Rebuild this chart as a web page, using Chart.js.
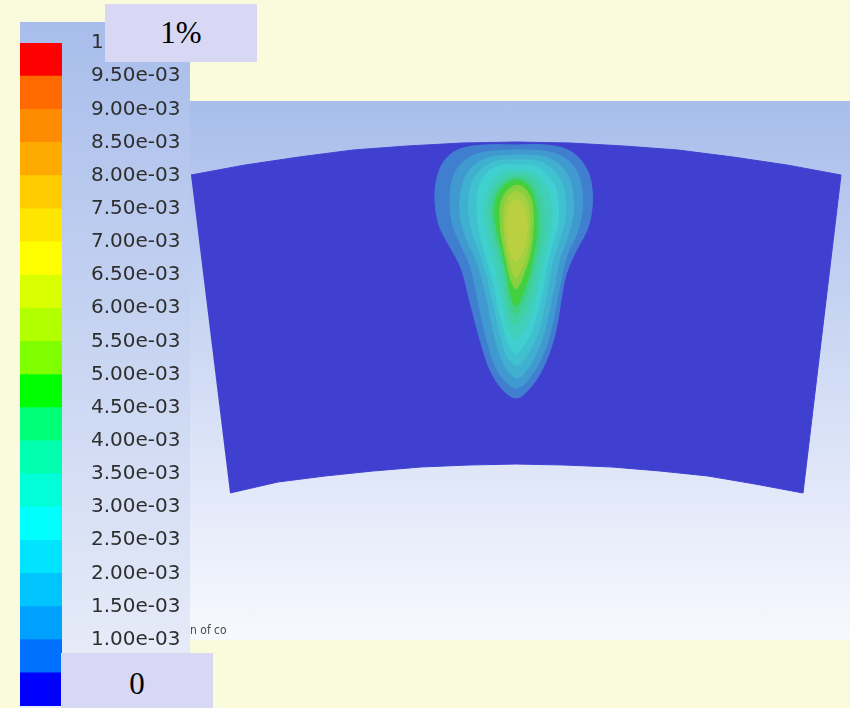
<!DOCTYPE html>
<html>
<head>
<meta charset="utf-8">
<script src="https://cdn.jsdelivr.net/npm/chart.js@4.4.1/dist/chart.umd.min.js"></script>
<style>
  html, body { margin: 0; padding: 0; width: 850px; height: 708px; overflow: hidden; background: #fafadd; }
  .panel { position: absolute; }
  #barPanel { left: 20px; top: 22px; width: 170px; height: 686px; background: linear-gradient(#a8bdeb, #ebeff9); }
  #plotPanel { left: 190px; top: 101px; width: 660px; height: 539px; background: linear-gradient(#a8bdeb, #f8f9fe); }
  canvas { position: absolute; }
  #barCanvas { left: 20px; top: 22px; }
  #plotCanvas { left: 190px; top: 101px; }
  .tag { position: absolute; background: #d8d8f4; font-family: "Liberation Serif", "Times New Roman", serif;
         font-size: 31px; color: #000; display: flex; align-items: center; justify-content: center; box-sizing: border-box; }
  #tagMax { left: 105px; top: 4px; width: 152px; height: 58px; }
  #tagMin { left: 61px; top: 653px; width: 152px; height: 55px; padding-top: 6px; }
  #caption { position: absolute; left: 190px; top: 623px; font: 12px "DejaVu Sans Condensed", "DejaVu Sans", sans-serif; color: #4a4a4a; }
</style>
</head>
<body>
<div class="panel" id="barPanel"></div>
<div class="panel" id="plotPanel"></div>
<canvas id="barCanvas" width="170" height="708"></canvas>
<canvas id="plotCanvas" width="660" height="539"></canvas>
<div id="caption">n of co</div>
<div class="tag" id="tagMax">1%</div>
<div class="tag" id="tagMin">0</div>
<script>
// Colour-scale levels (mass fraction) and their printed labels
const levels = [0, 0.0005, 0.001, 0.0015, 0.002, 0.0025, 0.003, 0.0035, 0.004, 0.0045, 0.005,
                0.0055, 0.006, 0.0065, 0.007, 0.0075, 0.008, 0.0085, 0.009, 0.0095, 0.01];
const levelLabels = ['0.00e+00', '5.00e-04', '1.00e-03', '1.50e-03', '2.00e-03', '2.50e-03', '3.00e-03',
                     '3.50e-03', '4.00e-03', '4.50e-03', '5.00e-03', '5.50e-03', '6.00e-03', '6.50e-03',
                     '7.00e-03', '7.50e-03', '8.00e-03', '8.50e-03', '9.00e-03', '9.50e-03', '1.00e-02'];
// One colour per band, lowest band first
const bandColors = ['#0000ff', '#0070ff', '#00a0ff', '#00c5ff', '#00e4ff', '#00ffff', '#00ffd8', '#00ffb0',
                    '#00ff78', '#00ff00', '#80ff00', '#b2ff00', '#daff00', '#ffff00', '#ffe600', '#ffcc00',
                    '#ffaa00', '#ff8c00', '#ff6a00', '#ff0000'];

// Outline of the fan-shaped section: outer arc (left to right), then inner arc (right to left)
const sectionOuterArc = [[191, 175], [245, 165], [299, 157], [353, 150], [407, 146], [462, 143], [516, 142],
                         [570, 143], [624, 146], [678, 150], [733, 157], [787, 165], [841, 175]];
const sectionInnerArc = [[803, 493], [755, 484], [708, 476], [660, 471], [612, 467], [564, 465], [516, 464],
                         [469, 465], [421, 467], [373, 471], [325, 476], [278, 482], [230, 493]];

// Iso-lines of the plume, one closed outline per level
const contourLevels = [0.0005, 0.001, 0.0015, 0.002, 0.0025, 0.003, 0.0035, 0.004, 0.0045, 0.005, 0.0055, 0.006];
const iso0005 = [[515,145],[545,145],[568,150],[583,163],[591,182],[592,208],[587,230],[575,253],[566,275],[561,300],
                 [557,325],[551,348],[542,370],[530,388],[517,398],[504,391],[491,372],[483,350],[476,325],[469,298],
                 [461,268],[449,245],[439,225],[435,200],[437,178],[445,160],[460,149],[485,145]];
const iso0010 = [[515,150],[543,151],[563,157],[576,170],[582,190],[582,212],[577,233],[567,255],[561,280],[556,305],
                 [551,330],[544,352],[534,372],[518,388],[505,381],[494,363],[487,340],[481,315],[476,290],[470,265],
                 [460,243],[452,222],[450,198],[453,178],[462,163],[477,154],[494,151]];
const iso0015 = [[515,155],[540,156],[557,163],[568,176],[573,195],[573,215],[568,236],[560,258],[555,283],[550,307],
                 [545,330],[538,350],[529,367],[518,378],[507,370],[499,352],[493,330],[488,305],[483,282],[476,260],
                 [467,240],[461,220],[460,198],[464,180],[472,167],[485,159],[499,156]];
const iso0020 = [[515,160],[537,161],[551,168],[561,181],[565,198],[565,218],[560,238],[553,260],[548,285],[544,308],
                 [539,330],[531,348],[518,365],[508,358],[502,341],[497,320],[492,298],[487,276],[481,256],[474,237],
                 [469,216],[469,196],[473,181],[481,170],[494,162],[504,160]];
const iso0025 = [[515,165],[534,166],[546,174],[555,186],[558,203],[558,222],[553,242],[547,264],[543,288],[538,310],
                 [532,330],[524,345],[516,353],[509,345],[504,329],[499,310],[495,290],[490,270],[484,250],[479,230],
                 [477,210],[478,192],[483,178],[492,169],[503,165]];
const iso0030 = [[515,170],[531,172],[542,180],[549,193],[552,210],[551,228],[547,248],[542,270],[537,292],[532,312],
                 [525,329],[516,339],[509,331],[505,315],[501,296],[497,276],[492,256],[487,237],[484,217],[485,199],
                 [490,185],[498,175],[506,171]];
const iso0035 = [[515,174],[528,176],[537,184],[543,197],[545,213],[545,232],[541,252],[536,274],[531,295],[525,313],
                 [516,325],[509,316],[506,300],[503,282],[499,262],[494,243],[490,224],[489,205],[493,191],[501,180],
                 [508,176]];
const iso0040 = [[515,177],[526,179],[533,187],[538,200],[540,216],[540,235],[536,256],[531,278],[525,299],[516,315],
                 [510,304],[507,288],[504,268],[499,249],[494,230],[492,211],[494,196],[501,185],[509,179]];
const iso0045 = [[515,180],[524,182],[531,190],[535,203],[537,220],[536,240],[532,262],[526,285],[516,306],[510,293],
                 [507,275],[503,255],[498,235],[495,216],[496,200],[502,188],[509,182]];
const iso0050 = [[515,185],[523,187],[530,196],[533,210],[533,228],[531,248],[526,268],[516,289],[510,277],[506,259],
                 [502,240],[500,220],[501,203],[506,192]];
const iso0055 = [[515,191],[523,194],[528,205],[530,220],[529,240],[525,260],[516,277],[510,264],[506,246],[504,227],
                 [504,210],[508,197]];
const iso0060 = [[515,199],[522,203],[526,215],[527,232],[523,250],[516,261],[510,251],[507,234],[507,218],[509,206]];
const isoLines = [iso0005, iso0010, iso0015, iso0020, iso0025, iso0030, iso0035, iso0040, iso0045, iso0050, iso0055, iso0060];

// Surface colours appear lit: mix each scale colour towards a dim grey
function lit(hex) {
  const n = parseInt(hex.slice(1), 16);
  const ch = [(n >> 16) & 255, (n >> 8) & 255, n & 255].map(c => Math.round(64 + 0.565 * c));
  return `rgb(${ch[0]},${ch[1]},${ch[2]})`;
}
function toPoints(list) { return list.map(([x, y]) => ({ x, y })); }

// ---- colour bar ----
new Chart(document.getElementById('barCanvas'), {
  type: 'bar',
  data: {
    labels: [''],
    datasets: bandColors.map((c, i) => ({
      data: [levels[i + 1] - levels[i]],
      backgroundColor: c,
      borderWidth: 0,
      barPercentage: 1,
      categoryPercentage: 1
    }))
  },
  options: {
    responsive: false, animation: false, devicePixelRatio: 1,
    layout: { padding: { top: 21, bottom: 24, left: 0, right: 0 } },
    plugins: { legend: { display: false }, tooltip: { enabled: false } },
    scales: {
      x: { stacked: true, display: false },
      y: {
        stacked: true, position: 'right', min: 0, max: 0.01,
        grid: { display: false, drawTicks: false }, border: { display: false },
        afterBuildTicks: s => { s.ticks = levels.map(v => ({ value: v })); },
        afterFit: s => { s.width = 128; s.paddingTop = 0; s.paddingBottom = 0; },
        ticks: {
          autoSkip: false, padding: 29, color: '#2e2e2e',
          font: { family: 'DejaVu Sans', size: 20 },
          callback: (v, i) => levelLabels[i]
        }
      }
    }
  }
});

// ---- section with plume contours ----
const plotSets = [];
plotSets.push({
  data: toPoints(sectionOuterArc.concat(sectionInnerArc)),
  showLine: true, fill: 'shape', tension: 0,
  backgroundColor: lit(bandColors[0]), borderColor: lit(bandColors[0]), borderWidth: 1, pointRadius: 0
});
isoLines.forEach((line, k) => {
  const band = levels.indexOf(contourLevels[k]);
  const col = lit(bandColors[band]);
  plotSets.push({
    data: toPoints(line.concat([line[0]])),
    showLine: true, fill: 'shape', tension: 0.35,
    backgroundColor: col, borderColor: col, borderWidth: 1, pointRadius: 0
  });
});

new Chart(document.getElementById('plotCanvas'), {
  type: 'scatter',
  data: { datasets: plotSets.reverse() },
  options: {
    responsive: false, animation: false, devicePixelRatio: 1,
    layout: { padding: 0 },
    plugins: { legend: { display: false }, tooltip: { enabled: false } },
    elements: { point: { radius: 0 } },
    scales: {
      x: { type: 'linear', min: 190, max: 850, display: false },
      y: { type: 'linear', min: 101, max: 640, reverse: true, display: false }
    }
  }
});
</script>
</body>
</html>
